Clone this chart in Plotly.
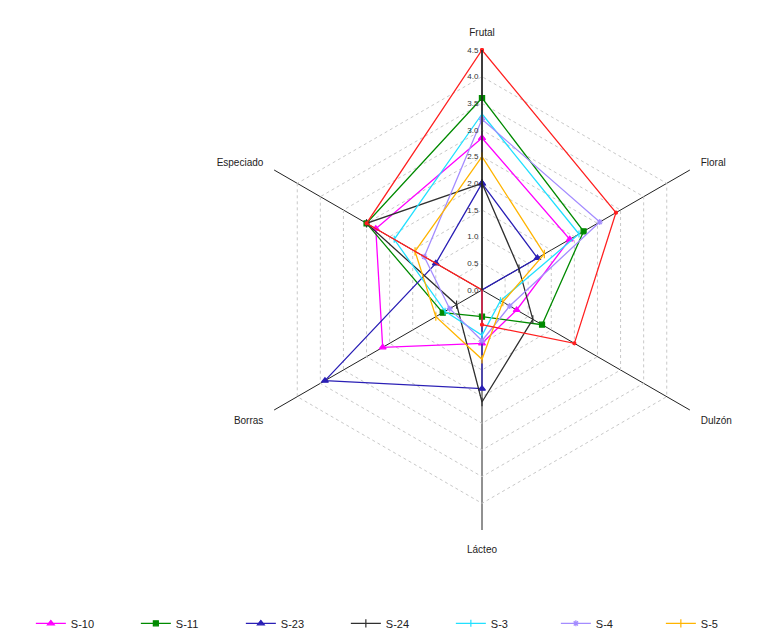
import plotly.graph_objects as go

categories = ["Frutal", "Floral", "Dulzón", "Lácteo", "Borras", "Especiado"]

s10 = [2.85, 1.9, 0.75, 1.0, 2.15, 2.3]
s11 = [3.6, 2.2, 1.3, 0.5, 0.85, 2.5]
s23 = [2.0, 1.2, 0.0, 1.85, 3.4, 1.0]
s24 = [2.0, 0.8, 1.1, 2.1, 0.55, 2.5]
s3 = [3.3, 2.1, 0.4, 0.85, 0.8, 1.9]
s4 = [3.2, 2.55, 0.6, 0.95, 0.7, 1.25]
s5 = [2.5, 1.35, 0.45, 1.3, 1.0, 1.45]
s_red = [4.5, 2.9, 2.0, 0.65, 0.0, 2.5]

radial_ticks = [0.0, 0.5, 1.0, 1.5, 2.0, 2.5, 3.0, 3.5, 4.0, 4.5]

series = [
    ("S-10", s10, "#ff00ff", "triangle-up", 6, True),
    ("S-11", s11, "#008a00", "square", 5, True),
    ("S-23", s23, "#2a1fb5", "triangle-up", 6, True),
    ("S-24", s24, "#303030", "line-ns", 6, True),
    ("S-3", s3, "#22e0ff", "line-ns", 5, True),
    ("S-4", s4, "#a48cff", "asterisk", 5, True),
    ("S-5", s5, "#ffb400", "line-ns", 6, True),
    ("S-6", s_red, "#ff2020", "circle", 3, False),
]

fig = go.Figure()
for name, vals, color, sym, size, show in series:
    fig.add_trace(go.Scatterpolar(
        r=vals + vals[:1],
        theta=categories + categories[:1],
        mode="lines+markers",
        name=name,
        showlegend=show,
        line=dict(color=color, width=1.3),
        marker=dict(symbol=sym, size=size, color=color,
                    line=dict(color=color, width=1.2)),
    ))

fig.update_layout(
    width=762, height=641,
    paper_bgcolor="white",
    margin=dict(l=0, r=0, t=0, b=0),
    font=dict(family="Liberation Sans, Arial, sans-serif", color="#222222"),
    polar=dict(
        domain=dict(x=[234 / 762, 714 / 762], y=[1 - 522 / 641, 1 - 42 / 641]),
        bgcolor="white",
        gridshape="linear",
        radialaxis=dict(
            range=[0, 4.5],
            tickvals=radial_ticks,
            tickformat=".1f",
            angle=90,
            tickangle=90,
            side="counterclockwise",
            showline=True,
            linecolor="#222222",
            linewidth=1.5,
            gridcolor="#c8c8c8",
            griddash="3px,3px",
            gridwidth=1,
            ticks="",
            tickfont=dict(size=8, color="#333333"),
        ),
        angularaxis=dict(
            rotation=90,
            direction="clockwise",
            showline=False,
            gridcolor="#222222",
            gridwidth=1.3,
            ticks="outside",
            ticklen=10,
            tickcolor="rgba(0,0,0,0)",
            tickfont=dict(size=10, color="#222222"),
        ),
    ),
    legend=dict(
        orientation="h",
        x=0.03, y=0.04, xanchor="left", yanchor="middle",
        entrywidth=60,
        font=dict(size=11, color="#222222"),
        itemwidth=30,
    ),
)

fig.write_html("out.html")
